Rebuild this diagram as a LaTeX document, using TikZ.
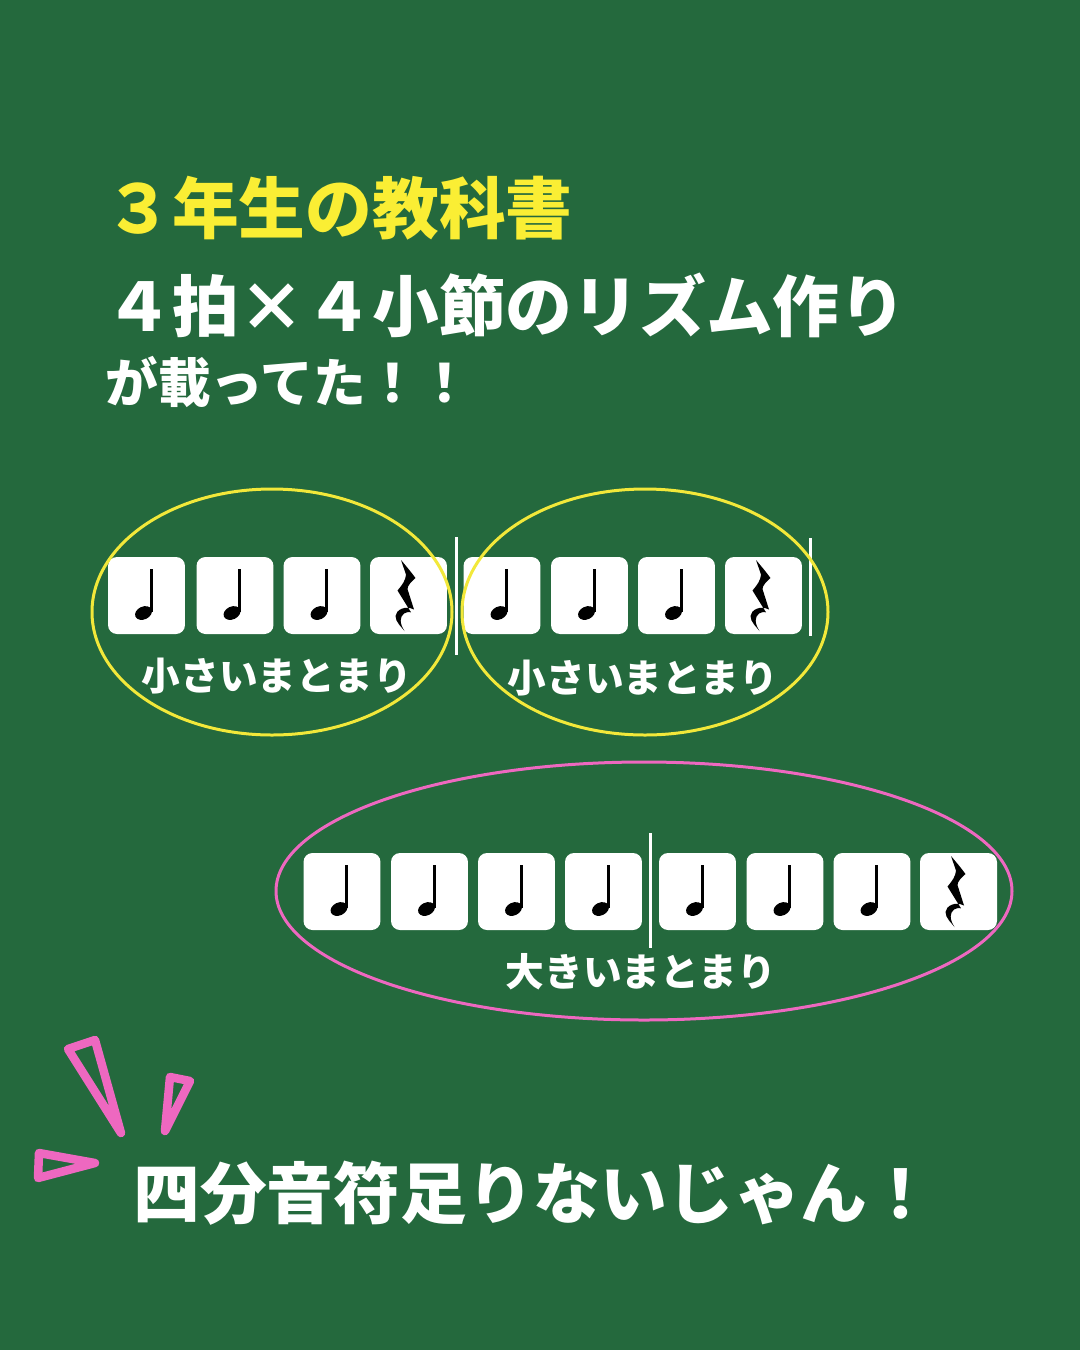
\documentclass[tikz,border=0pt]{standalone}
\usepackage{fontspec}
\newfontfamily\jpfont{Noto Sans CJK JP}
\usepackage{tikz}

\definecolor{board}{RGB}{36,105,61}
\definecolor{chalkyellow}{RGB}{250,238,52}
\definecolor{ringyellow}{RGB}{242,232,58}
\definecolor{chalkpink}{RGB}{238,104,192}

\begin{document}
\begin{tikzpicture}[
  x=0.02cm, y=-0.02cm,
  card/.style={
    fill=white,
    rounded corners=0.18cm,
    minimum size=1.54cm,
    inner sep=0pt
  },
  quarter/.pic={
    \fill[black, shift={(-3,17.5)}, rotate=25] (0,0) ellipse [x radius=8.8, y radius=6.4];
    \fill[black] (3.4,-26.5) rectangle (6.2,16);
  },
  quarter rest/.pic={
    \fill[black] (-7.5,-35.5) .. controls (-2,-29) and (3,-23) .. (7,-17.5)
      .. controls (3,-14) and (-1,-10) .. (-1,-6.5) -- (5.5,14)
      .. controls (-3.5,9.5) and (-12.5,14.5) .. (-13,20.5)
      .. controls (-13,26.5) and (-7,31.5) .. (-4,35.5)
      .. controls (-9,28) and (-9,21.5) .. (-4.5,18)
      .. controls (-2,16.2) and (1,16.2) .. (2.5,16.8)
      -- (-11,-5) .. controls (-6,-11) and (-3,-15) .. (-2.5,-21) -- cycle;
  },
  barline/.style={
    draw=white,
    line width=0.06cm
  },
  heading/.style={
    anchor=west,
    inner sep=0pt,
    font=\jpfont\bfseries\fontsize{38}{40}\selectfont
  },
  group label/.style={
    inner sep=0pt,
    text=white,
    font=\jpfont\bfseries\fontsize{22}{24}\selectfont
  },
  spark/.style={
    draw=chalkpink,
    line width=0.17cm,
    line join=round
  }
]

% Tafel
\fill[board] (0,0) rectangle (1080,1350);
\useasboundingbox (0,0) rectangle (1080,1350);

% Überschrift
\node[heading, text=chalkyellow] (title) at (105,208)
  {３年生の教科書};
\node[heading, text=white] (topic) at (105,305)
  {４拍×４小節のリズム作り};
\node[heading, text=white, font=\jpfont\bfseries\fontsize{30}{32}\selectfont] (found) at (105,382)
  {が載ってた！！};

% kleine Einheiten
\node[card] (a1) at (146.5,595.5) {};
\node[card] (a2) at (235,595.5) {};
\node[card] (a3) at (322,595.5) {};
\node[card] (a4) at (408.5,595.5) {};
\node[card] (a5) at (502,595.5) {};
\node[card] (a6) at (589.5,595.5) {};
\node[card] (a7) at (676.5,595.5) {};
\node[card] (a8) at (763.5,595.5) {};

\draw[barline] (456,537) -- (456,655);
\draw[barline] (810,538) -- (810,636);

\draw[ringyellow, line width=0.06cm] (272,612) ellipse [x radius=180, y radius=123];
\draw[ringyellow, line width=0.06cm] (645,612) ellipse [x radius=183, y radius=123];

\node[group label] (smallA) at (277,676) {小さいまとまり};
\node[group label] (smallB) at (643,678) {小さいまとまり};

% große Einheit
\node[card] (b1) at (342,891.5) {};
\node[card] (b2) at (429.5,891.5) {};
\node[card] (b3) at (516.5,891.5) {};
\node[card] (b4) at (603.5,891.5) {};
\node[card] (b5) at (697.5,891.5) {};
\node[card] (b6) at (785,891.5) {};
\node[card] (b7) at (872,891.5) {};
\node[card] (b8) at (958.5,891.5) {};

\draw[barline] (650,833) -- (650,948);

\draw[chalkpink, line width=0.06cm] (644,891) ellipse [x radius=368, y radius=129];

\node[group label] (large) at (641,972) {大きいまとまり};

% Noten und Pausen
\foreach \c in {a1,a2,a3,a5,a6,a7,b1,b2,b3,b4,b5,b6,b7}
  \pic at (\c) {quarter};
\foreach \c in {a4,a8,b8}
  \pic at (\c) {quarter rest};

% Ausruf
\draw[spark] (68,1049) -- (95,1040) -- (121,1133) -- cycle;
\draw[spark] (170,1077) -- (190,1081) -- (165,1131) -- cycle;
\draw[spark] (39,1153) -- (95,1163) -- (38,1178) -- cycle;

\node[heading, text=white] (punch) at (133,1193)
  {四分音符足りないじゃん！};

\end{tikzpicture}
\end{document}
